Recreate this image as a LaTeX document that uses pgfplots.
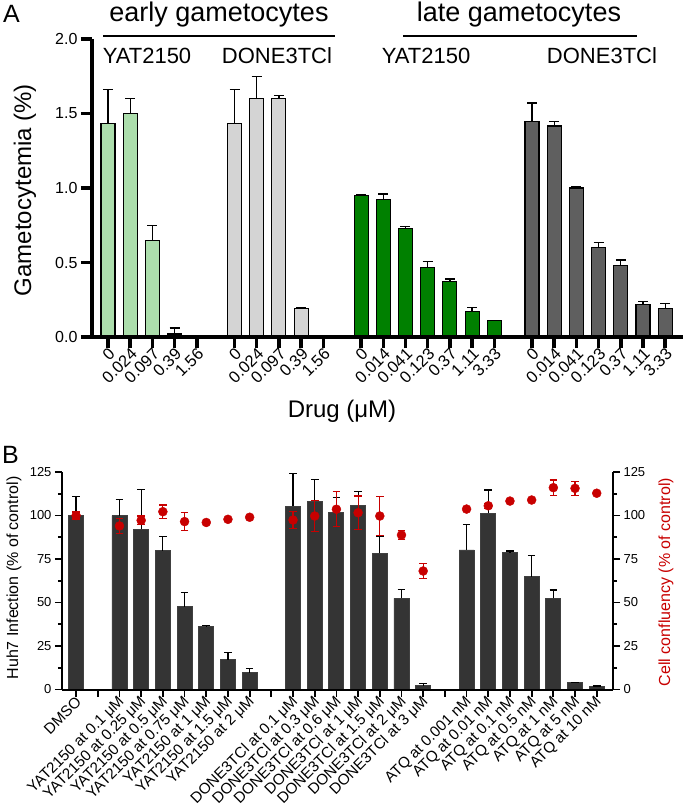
\documentclass[border=0pt]{standalone}
\usepackage{fontspec}
\setmainfont{Liberation Sans}
\usepackage{pgfplots}
\pgfplotsset{compat=1.18}
\usepackage{pgfplotstable}

\definecolor{lgreen}{RGB}{172,222,172}
\definecolor{lgray}{RGB}{212,212,212}
\definecolor{dgreen}{RGB}{0,128,0}
\definecolor{dgray}{RGB}{95,95,95}
\definecolor{bgray}{RGB}{52,52,52}
\definecolor{cred}{RGB}{200,0,0}

\pgfplotstableread{
x y e
0 1.43 0.23
1 1.50 0.10
2 0.65 0.10
3 0.02 0.04
}\earlyYAT
\pgfplotstableread{
x y e
5.7 1.43 0.23
6.7 1.60 0.15
7.7 1.60 0.02
8.7 0.19 0.01
}\earlyDONE
\pgfplotstableread{
x y e
11.4 0.95 0.005
12.4 0.92 0.04
13.4 0.73 0.01
14.4 0.465 0.04
15.4 0.37 0.02
16.4 0.17 0.03
17.4 0.11 0.0
}\lateYAT
\pgfplotstableread{
x y e
19.1 1.445 0.125
20.1 1.416 0.03
21.1 1.00 0.01
22.1 0.60 0.035
23.1 0.477 0.04
24.1 0.22 0.017
25.1 0.19 0.034
}\lateDONE

\pgfplotstableread{
x y e
0 100 10.8
2 100 9
3 92.2 22.6
4 79.8 8
5 47.6 8
6 36.1 0.9
7 17 4.1
8 9.7 2.5
10 105.3 18.7
11 108.2 12.6
12 101.6 8.6
13 105.5 8.2
14 78.3 9.9
15 52.4 5.2
16 2.2 1.4
18 80.2 14.8
19 101.3 13.4
20 78.6 1
21 64.8 12.1
22 52.4 4.8
23 3.9 0.3
24 1.6 0.4
}\infect
\pgfplotstableread{
x y e
0 100 2
2 94 4.4
3 97.2 2.5
4 102.2 3.8
5 96.5 5
6 96 0
7 97.8 0
8 99 0
10 97.4 5
11 99.7 9
12 103.6 10
13 101.6 9.6
14 99.7 11
15 88.8 2.5
16 68.1 4.4
18 103.7 0
19 105.6 1.5
20 108.3 0
21 108.9 0
22 116 4.4
23 115.6 4
24 112.8 0
}\conf

\begin{document}
\begin{tikzpicture}
\useasboundingbox (0pt,0pt) rectangle (685pt,-812pt);

% ---------- Panel A ----------
\begin{axis}[
  at={(92pt,-337pt)}, anchor=south west,
  scale only axis, width=591pt, height=298pt,
  xmin=-0.72, xmax=25.9, ymin=0, ymax=2,
  axis lines*=left,
  axis line style={line width=3.5pt},
  axis on top,
  tick align=outside,
  major tick length=11pt,
  every tick/.style={line width=3.5pt, black},
  xtick={0,1,2,3,4,5.7,6.7,7.7,8.7,9.7,11.4,12.4,13.4,14.4,15.4,16.4,17.4,19.1,20.1,21.1,22.1,23.1,24.1,25.1},
  xticklabels={0,0.024,0.097,0.39,1.56,0,0.024,0.097,0.39,1.56,0,0.014,0.041,0.123,0.37,1.11,3.33,0,0.014,0.041,0.123,0.37,1.11,3.33},
  xticklabel style={rotate=45, anchor=east, xshift=4pt, yshift=-5pt, font=\fontsize{16.5}{16.5}\selectfont},
  ytick={0,0.5,1,1.5,2}, yticklabels={0.0,0.5,1.0,1.5,2.0},
  yticklabel style={font=\fontsize{16}{16}\selectfont},
  bar width=14pt,
]
\addplot[ybar, bar shift=0pt, fill=lgreen, draw=black, line width=1.1pt,
  error bars/.cd, y dir=plus, y explicit,
  error bar style={line width=1.3pt, black},
  error mark options={rotate=90, mark size=5pt, line width=1.3pt, black}]
  table[x=x, y=y, y error=e]{\earlyYAT};
\addplot[ybar, bar shift=0pt, fill=lgray, draw=black, line width=1.1pt,
  error bars/.cd, y dir=plus, y explicit,
  error bar style={line width=1.3pt, black},
  error mark options={rotate=90, mark size=5pt, line width=1.3pt, black}]
  table[x=x, y=y, y error=e]{\earlyDONE};
\addplot[ybar, bar shift=0pt, fill=dgreen, draw=black, line width=1.1pt,
  error bars/.cd, y dir=plus, y explicit,
  error bar style={line width=1.3pt, black},
  error mark options={rotate=90, mark size=5pt, line width=1.3pt, black}]
  table[x=x, y=y, y error=e]{\lateYAT};
\addplot[ybar, bar shift=0pt, fill=dgray, draw=black, line width=1.1pt,
  error bars/.cd, y dir=plus, y explicit,
  error bar style={line width=1.3pt, black},
  error mark options={rotate=90, mark size=5pt, line width=1.3pt, black}]
  table[x=x, y=y, y error=e]{\lateDONE};
\end{axis}

\node[anchor=base, inner sep=0pt, font=\fontsize{27}{27}\selectfont] at (219pt,-21.5pt) {early gametocytes};
\draw[line width=1.3pt] (103pt,-36pt) -- (335pt,-36pt);
\node[anchor=base, inner sep=0pt, font=\fontsize{27}{27}\selectfont] at (519pt,-21.5pt) {late gametocytes};
\draw[line width=1.3pt] (403pt,-36pt) -- (637pt,-36pt);
\node[anchor=base, font=\fontsize{22}{22}\selectfont] at (147pt,-63pt) {YAT2150};
\node[anchor=base, font=\fontsize{22}{22}\selectfont] at (277pt,-63pt) {DONE3TCl};
\node[anchor=base, font=\fontsize{22}{22}\selectfont] at (426pt,-63pt) {YAT2150};
\node[anchor=base, font=\fontsize{22}{22}\selectfont] at (602pt,-63pt) {DONE3TCl};
\node[anchor=base west, inner sep=0pt, font=\fontsize{25}{25}\selectfont] at (3pt,-22pt) {A};
\node[rotate=90, font=\fontsize{24}{24}\selectfont] at (25pt,-190pt) {Gametocytemia (\%)};
\node[font=\fontsize{24}{24}\selectfont] at (342pt,-411pt) {Drug (μM)};

% ---------- Panel B ----------
\begin{axis}[
  at={(62pt,-689.5pt)}, anchor=south west,
  scale only axis, width=551pt, height=217.5pt,
  xmin=-0.65, xmax=24.75, ymin=0, ymax=125,
  axis x line*=bottom, axis y line*=left,
  axis line style={line width=2pt},
  axis on top,
  tick align=outside,
  major tick length=7pt, minor tick length=4pt,
  every tick/.style={line width=1.8pt, black},
  xtick={0,...,24},
  xticklabels={DMSO,{},YAT2150 at 0.1 μM,YAT2150 at 0.25 μM,YAT2150 at 0.5 μM,YAT2150 at 0.75 μM,YAT2150 at 1 μM,YAT2150 at 1.5 μM,YAT2150 at 2 μM,{},DONE3TCl at 0.1 μM,DONE3TCl at 0.3 μM,DONE3TCl at 0.6 μM,DONE3TCl at 1 μM,DONE3TCl at 1.5 μM,DONE3TCl at 2 μM,DONE3TCl at 3 μM,{},ATQ at 0.001 nM,ATQ at 0.01 nM,ATQ at 0.1 nM,ATQ at 0.5 nM,ATQ at 1 nM,ATQ at 5 nM,ATQ at 10 nM},
  xticklabel style={rotate=45, anchor=east, xshift=3pt, yshift=-4pt, font=\fontsize{15.2}{15.2}\selectfont},
  ytick={0,25,50,75,100,125}, minor y tick num=1,
  yticklabel style={font=\fontsize{13}{13}\selectfont},
  /pgf/number format/assume math mode=true,
  bar width=15pt,
]
\addplot[ybar, bar shift=0pt, fill=bgray, draw=black!75, line width=0.9pt,
  error bars/.cd, y dir=plus, y explicit,
  error bar style={line width=1.2pt, black},
  error mark options={rotate=90, mark size=3.8pt, line width=1.2pt, black}]
  table[x=x, y=y, y error=e]{\infect};
\end{axis}
\begin{axis}[
  at={(62pt,-689.5pt)}, anchor=south west,
  scale only axis, width=551pt, height=217.5pt,
  xmin=-0.65, xmax=24.75, ymin=0, ymax=125,
  axis x line=none, axis y line*=right,
  axis line style={line width=2pt},
  tick align=outside,
  major tick length=7pt, minor tick length=4pt,
  every tick/.style={line width=1.8pt, black},
  ytick={0,25,50,75,100,125}, minor y tick num=1,
  yticklabel style={font=\fontsize{13}{13}\selectfont},
  /pgf/number format/assume math mode=true,
]
\addplot[only marks, mark=*, mark size=4.5pt, color=cred, mark options={fill=cred, draw=cred},
  error bars/.cd, y dir=both, y explicit,
  error bar style={line width=1.2pt, cred},
  error mark options={rotate=90, mark size=3.8pt, line width=1.2pt, cred}]
  table[x=x, y=y, y error=e]{\conf};
\end{axis}

\node[anchor=base west, inner sep=0pt, font=\fontsize{25}{25}\selectfont] at (2pt,-463pt) {B};
\node[rotate=90, font=\fontsize{16}{16}\selectfont] at (14pt,-578pt) {Huh7 Infection (\% of control)};
\node[rotate=90, font=\fontsize{16}{16}\selectfont, text=cred] at (666pt,-582pt) {Cell confluency (\% of control)};
\end{tikzpicture}
\end{document}
